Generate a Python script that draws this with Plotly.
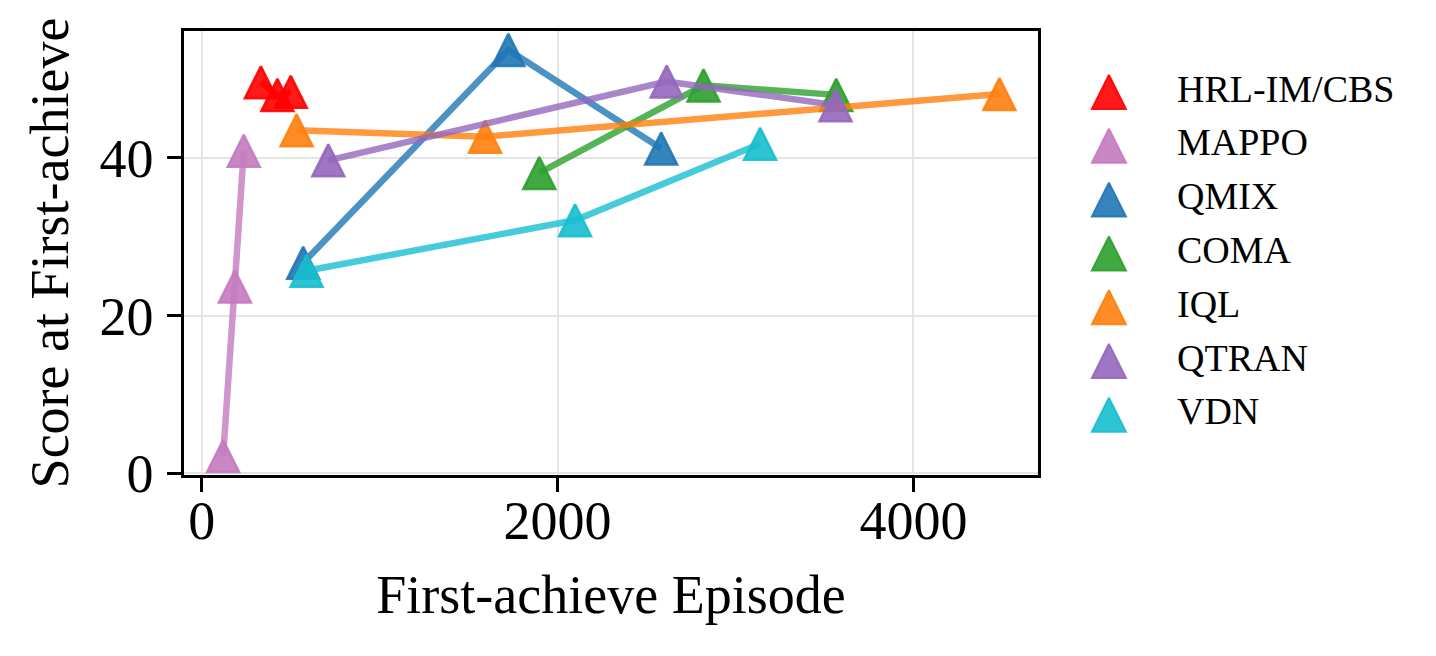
import plotly.graph_objects as go

# Methods in the order they are drawn (and listed in the legend)
METHODS = ['HRL-IM/CBS', 'MAPPO', 'QMIX', 'COMA', 'IQL', 'QTRAN', 'VDN']
COLORS = ['#ff0000', '#c47ac0', '#1f77b4', '#2ca02c', '#ff7f0e', '#9467bd', '#17becf']

# first-achieve episode / score at that episode, one pair of lists per method
HRL_X = [332, 425, 500]
HRL_Y = [49.6, 48.0, 48.4]
MAPPO_X = [120, 186, 236]
MAPPO_Y = [2.2, 23.7, 40.9]
QMIX_X = [570, 1723, 2582]
QMIX_Y = [26.7, 53.7, 41.2]
COMA_X = [1897, 2820, 3566]
COMA_Y = [38.1, 49.2, 48.0]
IQL_X = [533, 1592, 4483]
IQL_Y = [43.5, 42.7, 48.1]
QTRAN_X = [711, 2613, 3562]
QTRAN_Y = [39.7, 49.7, 46.7]
VDN_X = [589, 2098, 3138]
VDN_Y = [25.7, 32.1, 41.8]

X_TICKS = [0, 2000, 4000]
Y_TICKS = [0, 20, 40]

FONT = 'Liberation Serif, Times New Roman, serif'


def rgba(hex_color: str, alpha: float) -> str:
    """Turn '#rrggbb' into an rgba() string"""
    r, g, b = (int(hex_color[i:i + 2], 16) for i in (1, 3, 5))
    return f'rgba({r},{g},{b},{alpha})'


def triangle(color, size: float, alpha: float, edge: float) -> dict:
    """A matplotlib-like '^' marker.

    plotly's triangle-up is flatter, so flip an arrow-down and push it back
    by half its size so the marker is centred on the point
    """
    if isinstance(color, list):
        fill = [rgba(c, alpha) for c in color]
    else:
        fill = rgba(color, alpha)
    return dict(symbol='arrow-down', angle=180, standoff=size / 2, size=size,
                color=fill, line=dict(color=fill, width=edge))


series_x = [HRL_X, MAPPO_X, QMIX_X, COMA_X, IQL_X, QTRAN_X, VDN_X]
series_y = [HRL_Y, MAPPO_Y, QMIX_Y, COMA_Y, IQL_Y, QTRAN_Y, VDN_Y]

fig = go.Figure()

for name, color, xs, ys in zip(METHODS, COLORS, series_x, series_y):
    fig.add_trace(go.Scatter(x=xs, y=ys, mode='lines+markers', name=name,
                             line=dict(color=rgba(color, 0.8), width=6.5, backoff=0),
                             marker=triangle(color, 32, 0.9, 2.5),
                             showlegend=False, hoverinfo='skip'))

# legend drawn on its own hidden axes so the triangles can be as big as the plot ones
rows = list(range(len(METHODS)))
fig.add_trace(go.Scatter(x=[0.153] * len(METHODS), y=rows, mode='markers',
                         marker=triangle(COLORS, 34, 0.9, 2),
                         xaxis='x2', yaxis='y2', showlegend=False, hoverinfo='skip'))
fig.add_trace(go.Scatter(x=[0.336] * len(METHODS), y=rows, mode='text', text=METHODS,
                         textposition='middle right',
                         textfont=dict(family=FONT, size=38, color='black'),
                         xaxis='x2', yaxis='y2', showlegend=False, hoverinfo='skip'))

axis_common = dict(showline=True, linecolor='black', linewidth=2.5, mirror=True,
                   ticks='outside', ticklen=14, tickwidth=2.5, tickcolor='black',
                   showgrid=True, gridcolor='#e4e4e4', gridwidth=2, zeroline=False,
                   automargin=False,
                   tickfont=dict(family=FONT, size=54, color='black'))

# the page puts the figure 8px in from the corner, margins allow for that
fig.update_layout(
    width=1436, height=656,
    margin=dict(l=176, r=20, t=23, b=189),
    paper_bgcolor='white', plot_bgcolor='white',
    font=dict(family=FONT, color='black'),
    xaxis=dict(domain=[0, 0.6887], range=[-100, 4700], tickvals=X_TICKS,
               ticklabelstandoff=-18,
               title=dict(text='First-achieve Episode', standoff=26,
                          font=dict(family=FONT, size=54, color='black')),
               **axis_common),
    yaxis=dict(range=[-0.2, 56.1], tickvals=Y_TICKS, ticklabelstandoff=3,
               title=dict(text='Score at First-achieve', standoff=14,
                          font=dict(family=FONT, size=54, color='black')),
               **axis_common),
    xaxis2=dict(domain=[0.70, 1.0], range=[0, 1], visible=False, fixedrange=True),
    yaxis2=dict(domain=[0, 1], range=[7.119, -1.134], visible=False, fixedrange=True,
                anchor='x2'),
)

fig.write_html('out.html')
